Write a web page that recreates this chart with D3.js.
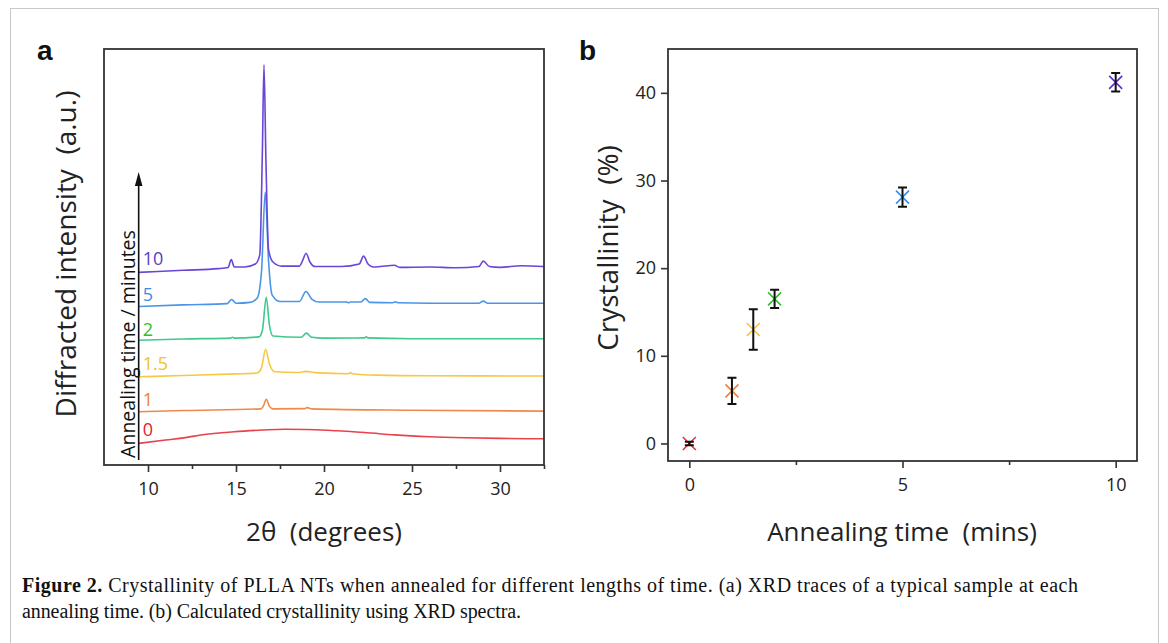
<!DOCTYPE html>
<html><head><meta charset="utf-8">
<script src="https://cdn.jsdelivr.net/npm/d3@7"></script>
<style>
html,body{margin:0;padding:0;background:#fff;}
svg{display:block;}
</style></head>
<body>
<svg id="fig" width="1168" height="643"></svg>
<script>
// ---------- DATA ----------
// Panel a: XRD traces (2θ in degrees, intensity in arbitrary units, offset-stacked)
const traceLabels = ["0", "1", "1.5", "2", "5", "10"];
const traceColors = ["#e8424a", "#f08a4a", "#f7c843", "#3fc98e", "#4a95e6", "#6a45d8"];
const labelColors = ["#e8202a", "#f07f30", "#f2c21e", "#2cc02c", "#3a8ee6", "#5a3cc8"];
const trace0 = [[9.47,5.2],[11,6.0],[12.3,6.7],[13,7.2],[14.9,8.0],[16.5,8.4],[17.75,8.6],[19,8.55],[20.6,8.25],[21.5,8.05],[22.5,7.75],[24,7.25],[26,6.8],[28,6.55],[30,6.4],[32.5,6.3]];
const trace1 = [[9.47,12.8],[12,13.1],[16.4,13.5],[16.55,14.1],[16.72,15.8],[16.9,14.1],[17.1,13.5],[18.9,13.55],[19.05,13.8],[19.3,13.5],[25,13.15],[32.5,12.95]];
const trace15 = [[9.47,21.2],[12,21.5],[15,21.9],[16.2,22.1],[16.45,23.4],[16.68,27.8],[16.9,24.3],[17.2,22.4],[18.5,22.25],[19.0,22.5],[19.5,22.2],[21.4,21.95],[21.5,22.2],[21.6,21.95],[23,21.6],[26,21.45],[32.5,21.4]];
const trace2 = [[9.47,30.0],[12,30.3],[14.7,30.5],[14.8,30.7],[14.9,30.5],[16.3,30.8],[16.5,32.4],[16.72,40.3],[16.9,33.6],[17.1,31.0],[18.7,30.7],[19.0,31.7],[19.3,30.7],[20,30.5],[22.3,30.55],[22.4,30.8],[22.5,30.55],[25,30.35],[32.5,30.35]];
const trace5 = [[9.47,38.1],[12,38.5],[14.5,38.8],[14.75,39.8],[15.0,38.9],[15.8,39.1],[16.2,40.1],[16.45,46.5],[16.66,65.6],[16.85,49.0],[17.05,40.9],[17.5,39.3],[18.6,39.3],[18.98,41.7],[19.3,39.9],[19.7,39.2],[21.3,39.2],[21.4,39.0],[21.5,39.2],[22.1,39.2],[22.35,40.0],[22.6,39.1],[23.9,39.0],[24.05,39.2],[24.2,39.0],[26,38.9],[28.8,38.9],[29.05,39.4],[29.3,38.9],[32.5,38.9]];
const trace10 = [[9.47,46.3],[12,46.8],[14.0,47.2],[14.55,47.5],[14.73,49.4],[14.9,47.6],[15.5,47.6],[16.1,48.3],[16.35,50.5],[16.5,75.7],[16.59,96.2],[16.7,73.3],[16.85,51.7],[17.1,48.8],[17.6,47.8],[18.6,47.8],[18.8,49.3],[18.98,50.9],[19.2,48.8],[19.5,47.7],[21.0,47.7],[22.0,48.3],[22.25,50.2],[22.5,48.3],[22.8,47.6],[23.2,47.7],[24.0,48.0],[24.3,47.5],[26,47.6],[27.5,47.4],[28.8,47.7],[29.05,49.0],[29.4,47.7],[30,47.5],[31.2,47.9],[32.5,47.7]];
const traces = [trace0, trace1, trace15, trace2, trace5, trace10];
const traceLabelLevels = [7.0, 14.3, 22.9, 31.0, 39.4, 48.0];
const xTicksA = [10, 15, 20, 25, 30];
const xMinorA = [12.5, 17.5, 22.5, 27.5, 32.5];

// Panel b: crystallinity vs annealing time
const annealTime = [0, 1, 1.5, 2, 5, 10];
const crystallinity = [0, 6.0, 13.0, 16.5, 28.1, 41.2];
const crystErr = [0.2, 1.5, 2.3, 1.05, 1.1, 1.05];
const pointColors = ["#e8303a", "#f08040", "#f5c040", "#30c030", "#3a8ee6", "#5a2fd0"];
const xTicksB = [0, 5, 10];
const xMinorB = [2.5, 7.5];
const yTicksB = [0, 10, 20, 30, 40];

// ---------- DRAW ----------
const svg = d3.select("#fig");
const sans = "'Open Sans', sans-serif";
const frameColor = "#333";

// outer border
svg.append("rect").attr("x", 10.5).attr("y", 8.5).attr("width", 1148).attr("height", 640)
  .attr("fill", "none").attr("stroke", "#c8c8c8").attr("stroke-width", 1);

// ----- Panel a -----
const xA = d3.scaleLinear().domain([7.5, 32.5]).range([104, 544]);
const yA = d3.scaleLinear().domain([0, 100]).range([465, 49]);
const gA = svg.append("g");

const line = d3.line().x(d => xA(d[0])).y(d => yA(d[1])).curve(d3.curveMonotoneX);
traces.forEach((t, i) => {
  gA.append("path").datum(t).attr("d", line).attr("fill", "none")
    .attr("stroke", traceColors[i]).attr("stroke-width", 1.6);
});
traceLabels.forEach((lab, i) => {
  gA.append("text").attr("x", xA(9.7)).attr("y", yA(traceLabelLevels[i]))
    .attr("font-family", sans).attr("font-size", 18).attr("fill", labelColors[i]).text(lab);
});

// arrow
const ax = xA(9.47);
gA.append("line").attr("x1", ax).attr("x2", ax).attr("y1", 460).attr("y2", 182)
  .attr("stroke", "#111").attr("stroke-width", 1.6);
gA.append("path").attr("d", `M${ax},172 L${ax-3.8},186 L${ax+3.8},186 Z`).attr("fill", "#111");
gA.append("text").attr("transform", `translate(${ax-4},344) rotate(-90)`)
  .attr("text-anchor", "middle").attr("font-family", sans).attr("font-size", 19.5)
  .attr("fill", "#111").text("Annealing time / minutes");

// axis ticks
const axA = gA.append("g").attr("transform", "translate(0,465)")
  .call(d3.axisBottom(xA).tickValues(xTicksA).tickSize(7).tickSizeOuter(0).tickPadding(10).tickFormat(d3.format("d")));
const axAm = gA.append("g").attr("transform", "translate(0,465)")
  .call(d3.axisBottom(xA).tickValues(xMinorA).tickSize(4).tickSizeOuter(0).tickFormat(""));
[axA, axAm].forEach(a => {
  a.select(".domain").remove();
  a.selectAll("line").attr("stroke", frameColor).attr("stroke-width", 1.6);
  a.selectAll("text").attr("font-family", sans).attr("font-size", 18).attr("fill", "#222");
});
// frame
gA.append("rect").attr("x", 104).attr("y", 49).attr("width", 440).attr("height", 416)
  .attr("fill", "none").attr("stroke", frameColor).attr("stroke-width", 1.8);

gA.append("text").attr("transform", "translate(76,254) rotate(-90)").attr("text-anchor", "middle")
  .attr("font-family", sans).attr("font-size", 28).attr("fill", "#222")
  .text("Diffracted intensity\u00a0\u00a0(a.u.)");
gA.append("text").attr("x", 324).attr("y", 541).attr("text-anchor", "middle")
  .attr("font-family", sans).attr("font-size", 26).attr("fill", "#222")
  .text("2\u03b8\u00a0\u00a0(degrees)");
svg.append("text").attr("x", 37).attr("y", 60).attr("font-family", "'Liberation Sans', Arial, sans-serif")
  .attr("font-weight", "bold").attr("font-size", 28).attr("fill", "#111").text("a");

// ----- Panel b -----
const xB = d3.scaleLinear().domain([-0.5, 10.5]).range([668, 1137]);
const yB = d3.scaleLinear().domain([-2, 45]).range([461, 49]);
const gB = svg.append("g");

const axB = gB.append("g").attr("transform", "translate(0,461)")
  .call(d3.axisBottom(xB).tickValues(xTicksB).tickSize(7).tickSizeOuter(0).tickPadding(10).tickFormat(d3.format("d")));
const axBm = gB.append("g").attr("transform", "translate(0,461)")
  .call(d3.axisBottom(xB).tickValues(xMinorB).tickSize(4).tickSizeOuter(0).tickFormat(""));
const ayB = gB.append("g").attr("transform", "translate(668,0)")
  .call(d3.axisLeft(yB).tickValues(yTicksB).tickSize(7).tickSizeOuter(0).tickPadding(5).tickFormat(d3.format("d")));
[axB, axBm, ayB].forEach(a => {
  a.select(".domain").remove();
  a.selectAll("line").attr("stroke", frameColor).attr("stroke-width", 1.6);
  a.selectAll("text").attr("font-family", sans).attr("font-size", 18).attr("fill", "#222");
});
gB.append("rect").attr("x", 668).attr("y", 49).attr("width", 469).attr("height", 412)
  .attr("fill", "none").attr("stroke", frameColor).attr("stroke-width", 1.8);

// points (X markers) and error bars
const pts = annealTime.map((t, i) => ({t, c: crystallinity[i], e: crystErr[i], col: pointColors[i]}));
const ms = 6.5;
pts.forEach(p => {
  const cx = xB(p.t), cy = yB(p.c);
  gB.append("path").attr("d", `M${cx-ms},${cy-ms}L${cx+ms},${cy+ms}M${cx-ms},${cy+ms}L${cx+ms},${cy-ms}`)
    .attr("stroke", p.col).attr("stroke-width", 1.6).attr("fill", "none");
});
pts.forEach(p => {
  const cx = xB(p.t), y1 = yB(p.c - p.e), y2 = yB(p.c + p.e);
  gB.append("path").attr("d", `M${cx},${y1}L${cx},${y2}M${cx-4.5},${y1}L${cx+4.5},${y1}M${cx-4.5},${y2}L${cx+4.5},${y2}`)
    .attr("stroke", "#111").attr("stroke-width", 2).attr("fill", "none");
});

gB.append("text").attr("transform", "translate(618,248) rotate(-90)").attr("text-anchor", "middle")
  .attr("font-family", sans).attr("font-size", 28).attr("fill", "#222")
  .text("Crystallinity\u00a0\u00a0(%)");
gB.append("text").attr("x", 902).attr("y", 541).attr("text-anchor", "middle")
  .attr("font-family", sans).attr("font-size", 26).attr("fill", "#222")
  .text("Annealing time\u00a0\u00a0(mins)");
svg.append("text").attr("x", 579).attr("y", 60).attr("font-family", "'Liberation Sans', Arial, sans-serif")
  .attr("font-weight", "bold").attr("font-size", 28).attr("fill", "#111").text("b");

// ----- Caption -----
const serif = "'Liberation Serif', 'Times New Roman', serif";
const cap1 = svg.append("text").attr("x", 22).attr("y", 592).attr("font-family", serif)
  .attr("font-size", 20).attr("fill", "#111")
  .attr("textLength", 1056).attr("lengthAdjust", "spacing");
cap1.append("tspan").attr("font-weight", "bold").text("Figure 2.");
cap1.append("tspan").text(" Crystallinity of PLLA NTs when annealed for different lengths of time. (a) XRD traces of a typical sample at each");
svg.append("text").attr("x", 22).attr("y", 618).attr("font-family", serif)
  .attr("font-size", 20).attr("fill", "#111")
  .attr("textLength", 499).attr("lengthAdjust", "spacing")
  .text("annealing time. (b) Calculated crystallinity using XRD spectra.");
</script>
</body></html>
